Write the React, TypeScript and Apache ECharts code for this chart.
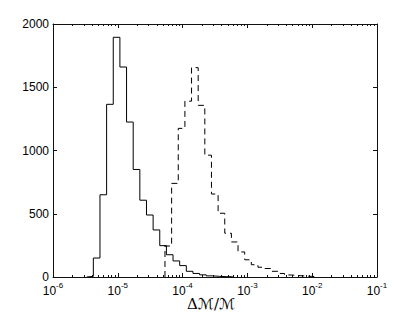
import React, { useEffect, useRef } from "react";
import * as echarts from "echarts";

// Histogram bins: log10 of first bin edge, and common bin width (in decades)
const solidBinStart = -5.48;
const dashedBinStart = -4.272;
const binWidth = 0.1025;

const solidCounts = [5, 150, 650, 1365, 1895, 1660, 1225, 850, 607, 490, 372, 248, 176, 127, 90, 45, 28, 17, 9, 5, 3, 2];
const dashedCounts = [245, 740, 1175, 1390, 1655, 1357, 963, 656, 504, 346, 277, 198, 136, 97, 77, 67, 45, 28, 16, 12, 8, 5, 3];

const yTicks = [0, 500, 1000, 1500, 2000];
const xDecades = [-6, -5, -4, -3, -2, -1];
const minorMultipliers = [2, 3, 4, 5, 6, 7, 8, 9];
const xAxisName = "\u0394\u2133/\u2133";

function stepPoints(start: number, counts: number[]): number[][] {
  const pts: number[][] = [];
  pts.push([Math.pow(10, start), 0]);
  counts.forEach((c, i) => {
    const x0 = Math.pow(10, start + i * binWidth);
    const x1 = Math.pow(10, start + (i + 1) * binWidth);
    pts.push([x0, c], [x1, c]);
  });
  pts.push([Math.pow(10, start + counts.length * binWidth), 0]);
  return pts;
}

const minorLog: number[] = [];
for (let d = xDecades[0]; d < xDecades[xDecades.length - 1]; d++) {
  minorMultipliers.forEach((m) => minorLog.push(d + Math.log10(m)));
}

export default function App() {
  const ref = useRef<HTMLDivElement>(null);
  useEffect(() => {
    if (!ref.current) return;
    const chart = echarts.init(ref.current, null, { renderer: "svg" });
    const font = "Liberation Sans, Arial, Helvetica, sans-serif";
    const lineCol = "#111";
    const tickAxisBase = (position: "top" | "bottom", ticks: "major" | "minor", showLine: boolean) => ({
      type: "value",
      position,
      min: xDecades[0],
      max: xDecades[xDecades.length - 1],
      interval: 1,
      axisLine: { show: showLine, onZero: false, lineStyle: { color: lineCol, width: 1 } },
      axisTick:
        ticks === "major"
          ? { show: true, inside: true, length: 4, lineStyle: { color: lineCol, width: 1 } }
          : { show: true, inside: true, length: 2, customValues: minorLog, lineStyle: { color: lineCol, width: 1 } },
      axisLabel: { show: false },
      splitLine: { show: false },
    });
    chart.setOption({
      animation: false,
      backgroundColor: "#fff",
      grid: { left: 53, right: 38, top: 24, bottom: 35, containLabel: false, outerBoundsMode: "none" },
      graphic: [
        {
          type: "text",
          x: 211,
          y: 304,
          style: {
            text: xAxisName,
            fontSize: 15,
            fontFamily: "DejaVu Serif, DejaVu Sans, serif",
            fill: "#000",
            textAlign: "center",
            textVerticalAlign: "middle",
          },
        },
      ],
      xAxis: [
        {
          type: "log",
          logBase: 10,
          position: "bottom",
          min: Math.pow(10, xDecades[0]),
          max: Math.pow(10, xDecades[xDecades.length - 1]),
          axisLine: { show: true, onZero: false, lineStyle: { color: lineCol, width: 1 } },
          axisTick: { show: true, inside: true, length: 4, lineStyle: { color: lineCol, width: 1 } },
          splitLine: { show: false },
          axisLabel: {
            margin: 4,
            formatter: (v: number) => `{h|}{b|10}{s|-${Math.abs(Math.round(Math.log10(v)))}}`,
            rich: {
              h: { width: 0, height: 16, lineHeight: 16 },
              b: { fontSize: 12, fontFamily: font, color: "#000", lineHeight: 12, verticalAlign: "bottom" },
              s: { fontSize: 8, fontFamily: font, color: "#000", lineHeight: 8, verticalAlign: "top" },
            },
          },
        },
        tickAxisBase("bottom", "minor", false),
        tickAxisBase("top", "major", true),
        tickAxisBase("top", "minor", false),
      ],
      yAxis: [
        {
          type: "value",
          position: "left",
          min: yTicks[0],
          max: yTicks[yTicks.length - 1],
          interval: yTicks[1] - yTicks[0],
          axisLine: { show: true, onZero: false, lineStyle: { color: lineCol, width: 1 } },
          axisTick: { show: true, inside: true, length: 4, lineStyle: { color: lineCol, width: 1 } },
          axisLabel: { margin: 4, fontSize: 12, fontFamily: font, color: "#000", formatter: (v: number) => String(v) },
          splitLine: { show: false },
        },
        {
          type: "value",
          position: "right",
          min: yTicks[0],
          max: yTicks[yTicks.length - 1],
          interval: yTicks[1] - yTicks[0],
          axisLine: { show: true, onZero: false, lineStyle: { color: lineCol, width: 1 } },
          axisTick: { show: true, inside: true, length: 4, lineStyle: { color: lineCol, width: 1 } },
          axisLabel: { show: false },
          splitLine: { show: false },
        },
      ],
      series: [
        {
          type: "line",
          xAxisIndex: 0,
          yAxisIndex: 0,
          data: stepPoints(solidBinStart, solidCounts),
          showSymbol: false,
          symbol: "none",
          lineStyle: { color: "#000", width: 1, type: "solid" },
        },
        {
          type: "line",
          xAxisIndex: 0,
          yAxisIndex: 0,
          data: stepPoints(dashedBinStart, dashedCounts),
          showSymbol: false,
          symbol: "none",
          lineStyle: { color: "#000", width: 1, type: [6, 4] },
        },
      ],
    });
    return () => chart.dispose();
  }, []);
  return <div ref={ref} style={{ width: 415, height: 312, position: "absolute", left: 0, top: 0 }} />;
}
